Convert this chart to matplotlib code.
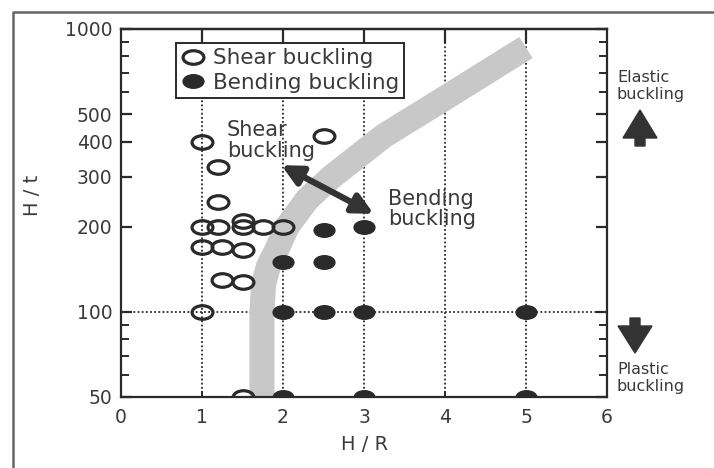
import matplotlib
matplotlib.use("Agg")
import matplotlib.pyplot as plt
import numpy as np
from matplotlib.path import Path
from matplotlib.patches import Polygon
from matplotlib.lines import Line2D
from matplotlib.ticker import FixedLocator, NullFormatter

# data
shear_hr = [1.0, 1.2, 1.2, 1.0, 1.2, 1.5, 1.5, 1.75, 2.0, 1.0, 1.25, 1.5, 1.25, 1.5, 1.0, 1.5, 2.5]
shear_ht = [400, 325, 245, 200, 200, 210, 200, 200, 200, 170, 170, 165, 130, 127, 100, 50, 420]

bend_hr = [2.0, 2.5, 2.5, 3.0, 2.0, 2.5, 3.0, 5.0, 2.0, 3.0, 5.0]
bend_ht = [150, 150, 195, 200, 100, 100, 100, 100, 50, 50, 50]

# shaded transition band (centre line)
band_hr = [1.74, 1.74, 1.76, 1.82, 1.92, 2.05, 2.3, 2.6, 3.25, 4.0, 5.0]
band_ht = [50, 100, 125, 145, 165, 200, 250, 300, 420, 570, 860]

y_major = [50, 100, 200, 300, 400, 500, 1000]
y_minor = [60, 70, 80, 90, 600, 700, 800, 900]
x_ticks = [0, 1, 2, 3, 4, 5, 6]
grid_x = [1, 2, 3, 4, 5]
grid_y = [100]

W, H = 714, 468
dark = "#2a2a2a"
txt = "#3a3a3a"

plt.rcParams["font.family"] = ["DejaVu Sans"]

fig = plt.figure(figsize=(W / 100, H / 100), dpi=100)
ax = fig.add_axes([121 / W, 1 - 397 / H, (607 - 121) / W, (397 - 29) / H])

ax.set_xlim(0, 6)
ax.set_yscale("log")
ax.set_ylim(50, 1000)

# dotted grid
for gx in grid_x:
    ax.axvline(gx, color=dark, lw=1.3, ls=(0, (1, 1.3)), zorder=1)
for gy in grid_y:
    ax.axhline(gy, color=dark, lw=1.3, ls=(0, (1, 1.3)), zorder=1)

# transition band
ax.plot(band_hr, band_ht, color="#c8c8c8", lw=18, solid_capstyle="butt",
        solid_joinstyle="round", zorder=2)

# slightly flattened circle marker
circ = Path.unit_circle()
ell = Path(circ.vertices * np.array([1.0, 0.65]), circ.codes)

ax.plot(shear_hr, shear_ht, ls="none", marker=ell, ms=15, mfc="none",
        mec=dark, mew=2.3, label="Shear buckling", zorder=4)
ax.plot(bend_hr, bend_ht, ls="none", marker=ell, ms=15, mfc=dark,
        mec=dark, mew=1.0, label="Bending buckling", zorder=4)

# double arrow between regions
ax.annotate("", xy=(1.98, 330), xytext=(3.12, 222),
            arrowprops=dict(arrowstyle="<|-|>", lw=4.5, color="#333333",
                            mutation_scale=30, shrinkA=0, shrinkB=0), zorder=5)

ax.text(1.31, 478, "Shear\nbuckling", fontsize=15, color=txt, va="top",
        ha="left", linespacing=1.1, zorder=6)
ax.text(3.3, 272, "Bending\nbuckling", fontsize=15, color=txt, va="top",
        ha="left", linespacing=1.0, zorder=6)

# axes styling
for s in ax.spines.values():
    s.set_linewidth(1.6)
    s.set_color(dark)

ax.yaxis.set_major_locator(FixedLocator(y_major))
ax.yaxis.set_minor_locator(FixedLocator(y_minor))
ax.yaxis.set_minor_formatter(NullFormatter())
ax.set_yticklabels([str(v) for v in y_major])
ax.set_xticks(x_ticks)
ax.set_xticklabels([str(v) for v in x_ticks])

ax.tick_params(axis="y", which="major", direction="in", length=8, width=1.6,
               left=True, right=True, labelsize=13.5, labelcolor=txt, color=dark, pad=6)
ax.tick_params(axis="y", which="minor", direction="in", length=6, width=1.4,
               left=True, right=True, color=dark)
ax.tick_params(axis="x", which="major", direction="in", length=4, width=1.4,
               labelsize=13.5, labelcolor=txt, color=dark, pad=8)

top = ax.secondary_xaxis("top")
top.set_xticks(grid_x)
top.set_xticklabels([])
top.tick_params(direction="in", length=10, width=1.6, color=dark)
top.spines["top"].set_linewidth(1.6)

leg = ax.legend(loc="upper left", bbox_to_anchor=(0.113, 0.962), fontsize=15.5,
                frameon=True, fancybox=False, borderaxespad=0, borderpad=0.25,
                handletextpad=0.35, handlelength=1.1, labelspacing=0.2,
                labelcolor=txt)
leg.get_frame().set_edgecolor(dark)
leg.get_frame().set_linewidth(1.4)
leg.get_frame().set_alpha(1)
leg.set_zorder(7)

# axis titles
fig.text(365 / W, 1 - 445 / H, "H / R", fontsize=14, color=txt, ha="center", va="center")
fig.text(33 / W, 1 - 195 / H, "H / t", fontsize=14, color=txt, ha="center",
         va="center", rotation=90)

# right side notes
fig.text(617 / W, 1 - 86 / H, "Elastic\nbuckling", fontsize=11.5, color=txt,
         ha="left", va="center", linespacing=1.25)
fig.text(617 / W, 1 - 378 / H, "Plastic\nbuckling", fontsize=11.5, color=txt,
         ha="left", va="center", linespacing=1.25)


def px(pts):
    return [(x / W, 1 - y / H) for x, y in pts]


up = px([(640, 110), (657, 138), (645, 138), (645, 146), (635, 146), (635, 138), (623, 138)])
down = px([(635, 353), (652, 326), (640, 326), (640, 318), (630, 318), (630, 326), (618, 326)])
fig.add_artist(Polygon(up, closed=True, color="#333333", transform=fig.transFigure))
fig.add_artist(Polygon(down, closed=True, color="#333333", transform=fig.transFigure))

# outer page frame
fig.add_artist(Line2D([13 / W, 13 / W, 1], [0, 1 - 12 / H, 1 - 12 / H],
                      transform=fig.transFigure, color="#666666", lw=1.8))

fig.savefig("out.png", dpi=100)
